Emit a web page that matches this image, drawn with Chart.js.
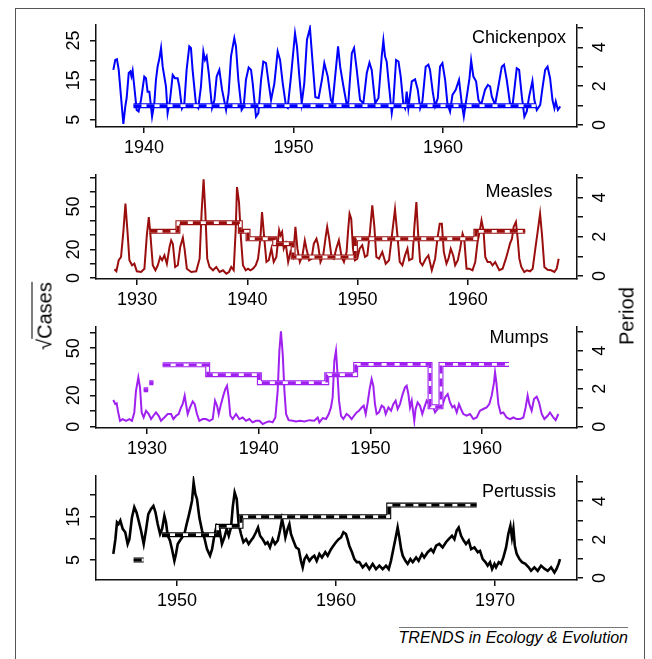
<!DOCTYPE html>
<html>
<head>
<meta charset="utf-8">
<script src="https://cdn.jsdelivr.net/npm/chart.js@4.4.1/dist/chart.umd.min.js"></script>
<style>
  body { margin: 0; background: #fff; }
  #fig { position: relative; width: 652px; height: 659px; overflow: hidden;
         font-family: 'Liberation Sans', Arial, sans-serif; color: #000; }
  #frame { position: absolute; left: 15px; top: 8px; width: 628px; height: 700px;
           border: 1.5px solid #555; }
  canvas { position: absolute; left: 0; }
  .name { position: absolute; font-size: 18px; transform: translate(-50%, -50%); white-space: nowrap; }
  .axislab { position: absolute; font-size: 20px; white-space: nowrap;
             transform: translate(-50%, -50%) rotate(-90deg); }
  .over { border-top: 1.5px solid #000; padding-top: 1px; }
  #credit { position: absolute; right: 24px; top: 627px; border-top: 1px solid #777;
            font-size: 16px; font-style: italic; white-space: nowrap; padding-top: 1px; }
</style>
</head>
<body>
<div id="fig">
  <div id="frame"></div>
  <canvas id="chickenpox" width="652" height="146" style="top:15px"></canvas>
  <canvas id="measles" width="652" height="148" style="top:165px"></canvas>
  <canvas id="mumps" width="652" height="145" style="top:317px"></canvas>
  <canvas id="pertussis" width="652" height="148" style="top:466px"></canvas>
  <div class="name" style="left:519px; top:37px">Chickenpox</div>
  <div class="name" style="left:519px; top:191px">Measles</div>
  <div class="name" style="left:519px; top:337px">Mumps</div>
  <div class="name" style="left:519px; top:491px">Pertussis</div>
  <div class="axislab" style="left:45px; top:316px">√<span class="over">Cases</span></div>
  <div class="axislab" style="left:627px; top:316px">Period</div>
  <div id="credit">TRENDS in Ecology &amp; Evolution</div>
</div>
<script>
// ---- data: sqrt(cases) time series ----
var chickenpoxYears = [1937.95,1938.08,1938.19,1938.31,1938.46,1938.62,1938.75,1938.84,1938.98,1939.09,1939.16,1939.24,1939.35,1939.51,1939.64,1939.8,
  1940.02,1940.13,1940.24,1940.36,1940.54,1940.69,1940.8,1940.91,1941.03,1941.14,1941.25,1941.47,1941.58,1941.74,1941.92,1942.07,1942.25,1942.36,1942.54,1942.7,1942.85,
  1943.03,1943.14,1943.25,1943.48,1943.63,1943.81,1943.97,1944.08,1944.19,1944.33,1944.55,1944.71,1944.86,1945.04,1945.22,1945.49,1945.66,1945.82,1946.04,1946.15,1946.31,
  1946.53,1946.67,1946.82,1947.0,1947.16,1947.27,1947.49,1947.65,1947.83,1947.98,1948.16,1948.34,1948.5,1948.72,1948.94,1949.1,1949.28,1949.5,1949.61,1949.83,
  1950.1,1950.23,1950.39,1950.55,1950.72,1950.9,1951.1,1951.28,1951.46,1951.68,1951.9,1952.06,1952.29,1952.5,1952.61,1952.85,1952.98,1953.12,1953.34,1953.56,1953.67,
  1953.9,1954.05,1954.23,1954.45,1954.67,1954.9,1955.08,1955.23,1955.46,1955.68,1955.9,1956.01,1956.12,1956.23,1956.39,1956.57,1956.68,1956.86,1957.02,1957.17,1957.35,
  1957.46,1957.57,1957.68,1957.91,1958.13,1958.31,1958.47,1958.62,1958.84,1959.02,1959.13,1959.31,1959.47,1959.65,1959.8,1959.96,1960.14,1960.29,1960.47,1960.63,1960.85,
  1961.07,1961.25,1961.39,1961.59,1961.77,1961.88,1962.03,1962.21,1962.37,1962.55,1962.81,1963.0,1963.15,1963.26,1963.48,1963.7,1963.93,1964.08,1964.26,1964.49,1964.67,
  1964.93,1965.09,1965.27,1965.44,1965.6,1965.76,1965.98,1966.11,1966.27,1966.5,1966.65,1966.83,1966.99,1967.16,1967.32,1967.45,1967.54,1967.68,1967.84];
var chickenpoxCases = [17.6,20.1,20.3,17.6,10.9,4.0,8.4,10.5,16.8,17.2,16.0,17.4,13.4,7.5,7.1,10.0,
  15.9,15.5,12.1,12.1,5.8,9.2,15.1,18.4,20.5,23.1,18.4,13.4,6.7,10.0,16.3,15.5,15.5,13.4,7.9,9.2,17.6,
  23.5,23.1,17.6,8.8,8.0,13.4,22.2,20.1,21.0,16.8,8.0,10.0,15.9,17.6,12.6,7.5,11.7,21.0,25.6,23.5,15.1,
  7.5,8.4,15.1,18.2,17.6,14.2,5.8,6.7,15.1,19.7,19.3,14.2,10.0,14.2,22.2,20.1,14.2,8.4,8.0,15.9,
  26.8,23.5,15.9,9.2,14.2,25.2,28.1,19.3,10.7,10.5,15.1,19.3,15.9,10.0,9.2,18.4,23.5,18.4,13.4,8.8,9.6,
  21.8,23.1,17.6,10.0,9.2,16.8,19.4,17.6,9.2,10.5,21.0,25.0,21.0,19.7,13.4,6.7,9.6,20.1,19.7,15.9,8.8,
  7.9,12.1,7.9,14.7,15.2,12.6,7.9,9.6,18.4,18.9,17.6,12.1,8.4,10.5,18.4,19.3,15.1,9.2,7.1,11.3,12.6,
  15.1,9.2,5.8,10.9,15.5,20.0,15.9,14.7,10.0,8.8,12.6,13.8,13.4,10.9,8.8,13.4,18.4,18.9,15.1,8.8,9.2,
  18.0,17.6,10.9,5.8,7.1,10.9,14.8,10.0,7.5,8.8,13.0,17.6,18.4,15.5,10.0,7.9,9.6,7.5,8.4];

var measlesYears = [1927.94,1928.12,1928.33,1928.54,1928.75,1928.94,1929.15,1929.3,1929.54,1929.75,1929.97,1930.36,1930.66,1930.88,1931.06,1931.21,1931.42,1931.66,1931.88,
  1932.09,1932.27,1932.48,1932.7,1932.94,1933.09,1933.24,1933.45,1933.69,1933.91,1934.15,1934.3,1934.51,1934.91,1935.36,1935.67,1935.85,1936.03,1936.18,1936.36,1936.57,
  1936.88,1937.18,1937.48,1937.79,1938.09,1938.33,1938.54,1938.76,1938.94,1939.06,1939.24,1939.42,1939.6,1939.85,1940.06,1940.27,1940.51,1940.76,1940.97,1941.18,1941.33,
  1941.51,1941.73,1941.94,1942.18,1942.39,1942.63,1942.88,1943.0,1943.15,1943.3,1943.48,1943.7,1943.91,1944.15,1944.36,1944.54,1944.76,1945.0,1945.21,1945.36,1945.6,
  1945.82,1946.03,1946.27,1946.42,1946.63,1946.88,1947.12,1947.24,1947.42,1947.63,1947.84,1948.06,1948.3,1948.55,1948.76,1949.0,1949.15,1949.27,1949.42,1949.58,1949.76,
  1949.97,1950.18,1950.42,1950.67,1950.88,1951.12,1951.33,1951.52,1951.7,1951.94,1952.24,1952.55,1952.85,1953.15,1953.39,1953.61,1953.82,1954.06,1954.3,1954.52,1954.67,
  1954.97,1955.15,1955.33,1955.48,1955.67,1955.88,1956.18,1956.42,1956.73,1957.03,1957.24,1957.45,1957.64,1957.82,1958.06,1958.24,1958.45,1958.67,1958.85,1959.09,1959.3,
  1959.52,1959.67,1959.88,1960.12,1960.42,1960.67,1960.88,1961.09,1961.24,1961.42,1961.58,1961.79,1962.03,1962.24,1962.48,1962.85,1963.15,1963.45,1963.7,1963.82,1964.0,
  1964.15,1964.36,1964.52,1964.67,1964.85,1965.12,1965.36,1965.64,1965.88,1966.12,1966.33,1966.55,1966.73,1966.94,1967.24,1967.55,1967.85,1968.06,1968.24];
var measlesCases = [6.1,4.7,12.4,14.7,32.2,52.0,29.8,12.4,8.9,10.0,4.7,4.2,6.5,29.8,42.6,29.8,8.9,5.4,8.9,
  14.7,12.4,15.8,10.0,21.7,26.3,24.0,7.7,8.9,21.7,28.2,20.5,6.5,4.2,4.7,13.5,46.1,69.0,47.3,13.5,7.7,
  5.4,7.7,4.2,5.4,3.0,4.2,7.7,5.4,33.3,63.6,53.1,27.5,8.9,5.4,6.5,5.4,6.5,8.9,13.5,27.5,46.1,
  29.8,11.2,12.4,20.5,11.2,14.7,33.3,29.8,32.2,20.5,24.0,11.2,18.2,14.7,35.7,20.5,11.2,15.8,26.3,20.5,12.4,
  13.5,24.0,27.5,22.9,11.2,15.8,29.8,35.7,27.5,14.7,13.5,20.5,26.3,14.7,11.2,18.2,34.5,45.0,41.5,20.5,12.4,
  13.5,20.5,22.9,14.7,15.8,32.2,50.8,35.7,14.7,13.5,18.2,10.0,12.4,32.2,48.0,29.8,11.2,8.9,15.8,20.5,12.4,
  13.5,35.7,53.1,32.2,11.2,8.9,13.5,15.8,5.4,13.5,27.5,38.0,38.0,18.2,10.0,13.5,20.5,15.8,8.9,12.4,20.5,
  31.0,27.5,6.5,6.5,5.4,11.2,25.2,33.3,40.3,33.3,14.7,11.2,11.2,8.9,11.2,5.4,6.5,13.5,20.5,24.0,27.5,
  35.7,39.2,27.5,13.5,7.7,4.2,5.4,4.7,6.5,20.5,32.2,45.0,29.8,7.7,5.8,5.4,4.2,6.5,13.5];

var mumpsYears = [1926.98,1927.16,1927.28,1927.4,1927.58,1927.82,1928.12,1928.42,1928.65,1928.86,1929.01,1929.22,1929.37,1929.52,1929.7,1929.91,1930.15,1930.36,1930.57,
  1930.8,1931.04,1931.25,1931.55,1931.85,1932.15,1932.36,1932.6,1932.83,1933.04,1933.19,1933.37,1933.49,1933.64,1933.85,1934.09,1934.27,1934.47,1934.68,1934.98,1935.28,
  1935.58,1935.88,1936.09,1936.27,1936.42,1936.62,1936.83,1937.01,1937.16,1937.31,1937.46,1937.67,1937.97,1938.27,1938.56,1938.86,1939.16,1939.46,1939.76,1940.06,1940.36,
  1940.66,1940.95,1941.25,1941.49,1941.7,1941.85,1941.99,1942.15,1942.3,1942.45,1942.68,1943.04,1943.34,1943.7,1944.09,1944.53,1944.98,1945.28,1945.43,1945.73,1946.03,
  1946.27,1946.47,1946.62,1946.77,1946.92,1947.0,1947.19,1947.37,1947.58,1947.87,1948.08,1948.32,1948.53,1948.77,1948.98,1949.22,1949.4,1949.58,1949.76,1949.93,1950.11,
  1950.26,1950.41,1950.56,1950.77,1951.01,1951.22,1951.37,1951.61,1951.85,1952.05,1952.26,1952.44,1952.65,1952.89,1953.1,1953.25,1953.4,1953.55,1953.7,1953.93,1954.05,
  1954.23,1954.44,1954.65,1954.83,1955.04,1955.25,1955.43,1955.64,1955.79,1956.02,1956.23,1956.44,1956.68,1956.92,1957.13,1957.34,1957.52,1957.73,1957.93,1958.11,1958.32,
  1958.62,1958.92,1959.22,1959.52,1959.81,1960.11,1960.41,1960.65,1960.86,1961.07,1961.16,1961.28,1961.46,1961.67,1961.9,1962.2,1962.5,1962.8,1963.1,1963.4,1963.7,
  1963.9,1964.08,1964.23,1964.44,1964.65,1964.89,1965.1,1965.34,1965.58,1965.87,1966.08,1966.38,1966.59,1966.83];
var mumpsCases = [17.0,14.4,14.9,9.8,3.8,4.9,3.8,4.9,3.8,9.1,22.9,31.4,25.1,9.1,5.9,10.2,8.1,4.9,7.0,
  9.1,7.0,3.8,5.9,8.1,8.1,4.9,7.0,8.1,12.3,14.4,19.8,14.4,8.1,12.3,16.1,14.4,8.1,3.8,4.9,4.9,
  3.8,4.9,16.6,13.4,8.1,14.4,19.8,24.0,26.1,18.7,7.0,4.9,8.1,4.9,5.9,3.8,4.9,2.8,3.8,3.8,1.7,
  2.8,3.4,2.8,5.9,23.0,48.4,60.7,46.3,23.0,8.1,4.2,3.8,3.4,3.8,3.4,4.2,3.8,5.9,2.8,5.5,4.9,
  8.1,12.3,18.7,42.0,48.4,40.0,16.6,7.0,4.9,8.1,7.0,4.9,7.0,9.1,10.2,12.3,13.4,8.1,15.5,24.0,30.4,
  26.1,14.4,8.1,9.1,13.4,12.3,8.1,12.3,10.2,14.4,16.6,11.3,14.4,20.8,25.1,26.1,20.8,12.3,16.6,3.8,11.3,
  15.5,13.4,8.1,12.3,16.6,14.4,12.3,12.3,9.1,11.3,13.4,13.4,18.7,20.8,15.5,12.3,13.4,9.1,14.4,11.3,8.1,
  7.0,8.1,4.9,5.9,10.2,11.3,12.3,14.4,19.8,28.2,34.6,28.2,14.4,8.5,9.1,5.9,4.9,5.9,4.9,4.9,5.9,
  12.3,19.8,14.4,10.2,17.6,19.1,15.5,8.1,4.9,7.0,9.1,5.9,4.2,8.1];

var pertussisYears = [1946.0,1946.13,1946.23,1946.33,1946.44,1946.59,1946.75,1946.9,1947.01,1947.17,1947.32,1947.46,1947.59,1947.74,1947.91,1948.05,1948.2,1948.37,1948.52,
  1948.65,1948.79,1948.94,1949.07,1949.21,1949.31,1949.42,1949.56,1949.69,1949.84,1949.94,1950.05,1950.19,1950.32,1950.47,1950.61,1950.74,1950.84,1950.95,1951.05,1951.16,
  1951.26,1951.41,1951.58,1951.72,1951.89,1952.08,1952.21,1952.35,1952.5,1952.67,1952.83,1952.98,1953.13,1953.26,1953.4,1953.51,1953.63,1953.76,1953.88,1954.03,1954.18,
  1954.35,1954.51,1954.66,1954.8,1954.97,1955.1,1955.23,1955.39,1955.56,1955.7,1955.85,1956.02,1956.17,1956.34,1956.48,1956.61,1956.72,1956.82,1956.96,1957.07,1957.17,
  1957.32,1957.49,1957.66,1957.8,1957.91,1958.02,1958.16,1958.33,1958.5,1958.64,1958.79,1958.96,1959.12,1959.33,1959.48,1959.69,1959.84,1960.0,1960.17,1960.32,1960.47,
  1960.63,1960.73,1960.84,1961.01,1961.16,1961.31,1961.47,1961.68,1961.89,1962.1,1962.31,1962.52,1962.73,1962.94,1963.15,1963.32,1963.46,1963.63,1963.78,1963.88,1963.99,
  1964.1,1964.2,1964.37,1964.51,1964.68,1964.83,1965.04,1965.2,1965.41,1965.55,1965.77,1965.98,1966.13,1966.3,1966.5,1966.71,1966.92,1967.09,1967.3,1967.45,1967.59,
  1967.72,1967.87,1968.03,1968.18,1968.35,1968.5,1968.71,1968.92,1969.06,1969.23,1969.4,1969.54,1969.69,1969.82,1969.97,1970.07,1970.24,1970.38,1970.53,1970.7,1970.84,
  1970.97,1971.07,1971.16,1971.25,1971.37,1971.54,1971.7,1971.91,1972.12,1972.27,1972.48,1972.69,1972.9,1973.11,1973.32,1973.53,1973.74,1973.88,1974.0,1974.09];
var pertussisCases = [6.4,9.8,13.7,13.3,14.1,12.2,11.4,8.7,9.8,14.8,17.2,16.0,14.1,11.8,8.7,11.8,15.6,16.8,17.5,
  16.0,13.3,11.0,12.2,15.2,13.7,10.6,9.5,7.5,4.8,6.4,8.7,9.5,10.2,11.0,13.3,15.2,16.8,18.7,22.9,20.2,
  19.1,14.8,11.8,10.2,7.5,6.0,7.5,10.6,12.9,12.2,8.7,10.2,12.2,10.6,12.5,17.2,20.6,19.1,13.3,11.0,9.1,
  9.8,8.7,9.5,10.2,11.4,12.5,10.6,9.8,8.7,9.1,7.9,9.8,8.7,9.5,11.8,14.4,12.5,10.2,12.2,13.3,11.0,
  9.5,7.9,7.5,4.8,3.3,5.2,6.0,4.8,5.6,6.0,4.8,6.4,5.6,6.8,6.0,7.5,8.3,9.1,9.8,10.2,11.4,
  11.0,9.8,8.3,6.8,5.2,4.5,4.5,3.3,4.1,2.9,4.1,2.9,3.7,2.9,3.7,2.9,4.8,7.9,10.6,12.5,10.2,
  7.5,6.0,4.8,4.1,5.2,4.5,5.6,4.8,6.4,5.6,6.8,7.5,6.8,8.3,8.7,7.9,9.1,9.8,10.6,9.8,11.8,
  12.5,10.6,9.5,8.7,9.5,7.5,7.9,6.8,7.1,5.2,4.5,3.7,4.5,2.9,4.1,3.3,4.5,4.1,5.6,7.9,11.0,
  12.9,10.2,12.2,8.3,6.4,5.2,4.5,4.1,3.3,2.5,3.3,2.5,3.7,3.0,2.5,3.3,2.1,3.0,4.1,5.2];

// ---- dominant period (years), piecewise constant: from, to, value ----
var chickenpoxPeriodFrom = [1939.3];
var chickenpoxPeriodTo = [1966.2];
var chickenpoxPeriod = [1.0];

var measlesPeriodFrom = [1931.12, 1933.7, 1939.36, 1940.06, 1942.48, 1944.15, 1949.8, 1960.73];
var measlesPeriodTo = [1933.7, 1939.36, 1940.06, 1942.48, 1944.15, 1949.8, 1960.73, 1965.2];
var measlesPeriod = [2.28, 2.72, 2.28, 1.9, 1.65, 0.97, 1.9, 2.28];

var mumpsPeriodFrom = [1929.7, 1930.2, 1931.4, 1935.43, 1940.06, 1946.09, 1948.68, 1955.34, 1956.32];
var mumpsPeriodTo = [1930.1, 1930.57, 1935.43, 1940.06, 1946.09, 1948.68, 1955.34, 1956.32, 1962.41];
var mumpsPeriod = [1.95, 2.32, 3.26, 2.74, 2.32, 2.74, 3.28, 1.05, 3.28];

var pertussisPeriodFrom = [1947.28, 1949.06, 1952.56, 1954.03, 1963.32];
var pertussisPeriodTo = [1947.91, 1952.56, 1954.03, 1963.32, 1968.85];
var pertussisPeriod = [0.94, 2.26, 2.69, 3.19, 3.8];

// labelled ticks (others are drawn unlabelled, as R drops overlapping labels)
var chickenpoxTickLabels = [5, 15, 25];
var measlesTickLabels = [0, 20, 50];
var mumpsTickLabels = [0, 20, 50];
var pertussisTickLabels = [5, 15];
var periodTickLabels = [0, 2, 4];

Chart.defaults.font.family = "'Liberation Sans', Arial, sans-serif";
Chart.defaults.font.size = 18;
Chart.defaults.color = '#000';

function toPoints(xs, ys) {
  return xs.map(function(x, i) { return {x: x, y: ys[i]}; });
}

function toSteps(from, to, val) {
  var pts = [];
  for (var i = 0; i < from.length; i++) {
    if (i > 0 && from[i] !== to[i - 1]) pts.push({x: (from[i] + to[i - 1]) / 2, y: null});
    pts.push({x: from[i], y: val[i]});
    pts.push({x: to[i], y: val[i]});
  }
  return pts;
}

function axisStyle() {
  return {
    grid: {drawOnChartArea: false, drawTicks: true, tickLength: 6, color: '#111', lineWidth: 1.5},
    border: {display: true, color: '#111', width: 1.5}
  };
}

function makePanel(id, p) {
  var steps = toSteps(p.from, p.to, p.period);
  var ax = axisStyle();
  new Chart(document.getElementById(id), {
    type: 'line',
    data: {
      datasets: [
        {data: toPoints(p.years, p.cases), borderColor: p.color, borderWidth: p.width, yAxisID: 'y', order: 3},
        {data: steps, borderColor: p.color, borderWidth: 5, yAxisID: 'y2', order: 2, spanGaps: false},
        {data: steps, borderColor: '#fff', borderWidth: 2.8, yAxisID: 'y2', order: 1, spanGaps: false},
        {data: steps, borderColor: p.color, borderWidth: 2.8, borderDash: [8, 5], yAxisID: 'y2', order: 0, spanGaps: false}
      ]
    },
    options: {
      responsive: false,
      animation: false,
      layout: {padding: {top: 10, bottom: 4, left: 52, right: 35}},
      elements: {point: {radius: 0}, line: {tension: 0}},
      plugins: {legend: {display: false}, tooltip: {enabled: false}},
      scales: {
        x: {
          type: 'linear', position: 'bottom', min: p.xMin, max: p.xMax,
          grid: ax.grid, border: ax.border,
          ticks: {stepSize: 10, includeBounds: false, autoSkip: false, maxRotation: 0, minRotation: 0, padding: 4,
                  callback: function(v) { return String(v); }},
          afterFit: function(s) { s.height = 30; s.paddingLeft = 0; s.paddingRight = 0; }
        },
        y: {
          type: 'linear', position: 'left', min: p.yMin, max: p.yMax,
          grid: ax.grid, border: ax.border,
          ticks: {stepSize: p.yStep, includeBounds: false, autoSkip: false, minRotation: 90, maxRotation: 90,
                  crossAlign: 'center', padding: 6,
                  callback: function(v) { return p.labels.indexOf(v) >= 0 ? String(v) : ''; }},
          afterFit: function(s) { s.width = 44; s.paddingTop = 0; s.paddingBottom = 0; }
        },
        y2: {
          type: 'linear', position: 'right', min: p.pMin, max: p.pMax,
          grid: ax.grid, border: ax.border,
          ticks: {stepSize: 1, includeBounds: false, autoSkip: false, minRotation: 90, maxRotation: 90,
                  crossAlign: 'center', padding: 12,
                  callback: function(v) { return periodTickLabels.indexOf(v) >= 0 ? String(v) : ''; }},
          afterFit: function(s) { s.width = 40; s.paddingTop = 0; s.paddingBottom = 0; }
        }
      }
    }
  });
}

makePanel('chickenpox', {color: '#0000ff', width: 2, years: chickenpoxYears, cases: chickenpoxCases,
  from: chickenpoxPeriodFrom, to: chickenpoxPeriodTo, period: chickenpoxPeriod, labels: chickenpoxTickLabels,
  xMin: 1936.79, xMax: 1968.96, yMin: 3.2, yMax: 28.9, yStep: 5, pMin: -0.1, pMax: 5.15});
makePanel('measles', {color: '#9a0e0e', width: 2, years: measlesYears, cases: measlesCases,
  from: measlesPeriodFrom, to: measlesPeriodTo, period: measlesPeriod, labels: measlesTickLabels,
  xMin: 1926.27, xMax: 1969.9, yMin: -0.7, yMax: 72, yStep: 10, pMin: -0.15, pMax: 5.15});
makePanel('mumps', {color: '#a020f0', width: 2, years: mumpsYears, cases: mumpsCases,
  from: mumpsPeriodFrom, to: mumpsPeriodTo, period: mumpsPeriod, labels: mumpsTickLabels,
  xMin: 1925.43, xMax: 1968.5, yMin: -0.8, yMax: 63.5, yStep: 10, pMin: -0.07, pMax: 5.25});
makePanel('pertussis', {color: '#000000', width: 2.6, years: pertussisYears, cases: pertussisCases,
  from: pertussisPeriodFrom, to: pertussisPeriodTo, period: pertussisPeriod, labels: pertussisTickLabels,
  xMin: 1944.91, xMax: 1975.16, yMin: 0.38, yMax: 24.4, yStep: 5, pMin: -0.1, pMax: 5.31});
</script>
</body>
</html>
